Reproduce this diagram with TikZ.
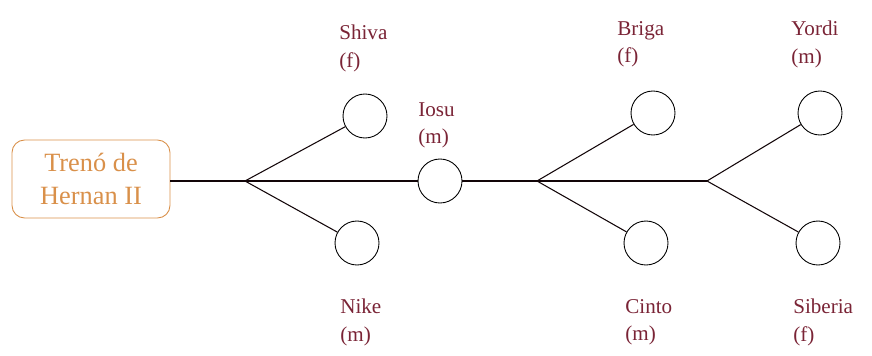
\documentclass[tikz,border=0pt]{standalone}
\usepackage{fontspec}
\setmainfont{Liberation Serif}
\usepackage{xcolor}
\usetikzlibrary{positioning}
\definecolor{namered}{HTML}{7A2436}
\definecolor{boxorange}{HTML}{D9904A}
\begin{document}
\begin{tikzpicture}[
    x=0.02cm, y=-0.02cm,
    font=\fontsize{12pt}{15.5pt}\selectfont,
    person/.style={draw, circle, minimum size=0.88cm, inner sep=0pt, line width=0.5pt},
    tag/.style={anchor=north west, align=left, inner sep=0pt, text=namered},
    founder/.style={draw=boxorange, rounded corners=2.5mm, align=center, text=boxorange, font=\fontsize{15pt}{19pt}\selectfont, minimum width=3.16cm, minimum height=1.56cm, inner sep=2pt, line width=0.5pt},
    line/.style={draw=black!85!namered, line width=0.6pt}
  ]
    \useasboundingbox (0,0) rectangle (872,355);

    \node[founder] (hernan) at (91,179) {Trenó de\\Hernan II};

    \coordinate (fork1) at (245,181);
    \coordinate (fork2) at (537,181);
    \coordinate (fork3) at (707,181);

    \node[person] (shiva) at (365,116) {};
    \node[person] (nike) at (357,243) {};
    \node[person] (iosu) at (440,181) {};
    \node[person] (briga) at (653,113) {};
    \node[person] (cinto) at (646,243) {};
    \node[person] (yordi) at (820,113) {};
    \node[person] (siberia) at (818,243) {};

    \node[tag] (shivatag) at (339,25) {Shiva\\(f)};
    \node[tag] (iosutag) at (418,102) {Iosu\\(m)};
    \node[tag] (brigatag) at (617,21) {Briga\\(f)};
    \node[tag] (yorditag) at (791,21) {Yordi\\(m)};
    \node[tag] (niketag) at (340,299) {Nike\\(m)};
    \node[tag] (cintotag) at (625,299) {Cinto\\(m)};
    \node[tag] (siberiatag) at (793,299) {Siberia\\(f)};

    \draw[line] (hernan.east |- fork1) -- (iosu.west);
    \draw[line] (iosu.east) -- (fork3);
    \draw[line] (fork1) -- (shiva);
    \draw[line] (fork1) -- (nike);
    \draw[line] (fork2) -- (briga);
    \draw[line] (fork2) -- (cinto);
    \draw[line] (fork3) -- (yordi);
    \draw[line] (fork3) -- (siberia);
\end{tikzpicture}
\end{document}
